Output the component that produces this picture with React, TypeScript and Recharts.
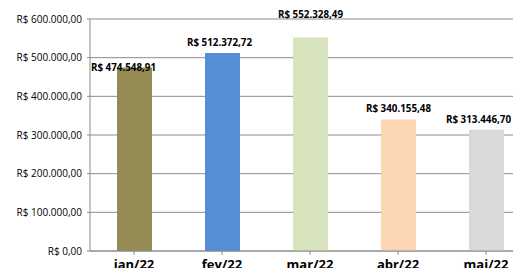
import { Bar, BarChart, CartesianGrid, Cell, LabelList, XAxis, YAxis } from "recharts";

// Faturamento mensal jan-mai/22, estilo planilha Excel.

const months = ["jan/22", "fev/22", "mar/22", "abr/22", "mai/22"];
const totals = [474548.91, 512372.72, 552328.49, 340155.48, 313446.7];
const yTicks = [0, 100000, 200000, 300000, 400000, 500000, 600000];

const COLORS = ["#948a54", "#558ed5", "#d7e4bd", "#fcd5b5", "#d9d9d9"];
// ajuste manual dos rótulos (como no original)
const NUDGE: [number, number][] = [[-11, 10], [-3, 0], [0, -12], [0, 0], [-8, 0]];

const GRID = "#8c8c8c";
const FONT = "'Open Sans', sans-serif";

const brl = (v: number) =>
  "R$ " +
  v.toLocaleString("pt-BR", { minimumFractionDigits: 2, maximumFractionDigits: 2 });

const data = months.map((m, i) => ({ month: m, total: totals[i] }));

function ValueLabel(props: any) {
  const { x, y, width, index, value } = props;
  const [dx, dy] = NUDGE[index] ?? [0, 0];
  return (
    <text
      x={x + width / 2 + dx}
      y={y - 7 + dy}
      textAnchor="middle"
      fontSize={9.8}
      fontWeight={700}
      fontFamily={FONT}
      fill="#000"
    >
      {brl(value)}
    </text>
  );
}

function YTick(props: any) {
  const { x, y, payload } = props;
  return (
    <text x={x} y={y} dy={3.5} textAnchor="end" fontSize={10} fontFamily={FONT} fill="#000">
      {brl(payload.value)}
    </text>
  );
}

export default function App() {
  return (
    <div style={{ margin: -8, width: 521, height: 276, overflow: "hidden", background: "#fff" }}>
      <BarChart
        width={540}
        height={276}
        data={data}
        margin={{ top: 19, right: 10, left: 0, bottom: 0 }}
      >
        <CartesianGrid vertical={false} stroke={GRID} />
        <XAxis
          dataKey="month"
          height={25}
          stroke={GRID}
          tickSize={4}
          tick={{ fontSize: 13, fontWeight: 700, fill: "#000", fontFamily: FONT }}
          tickMargin={5}
          interval={0}
        />
        <YAxis
          width={90}
          domain={[0, 600000]}
          ticks={yTicks}
          stroke={GRID}
          tickSize={3}
          tickMargin={5}
          tick={<YTick />}
          interval={0}
        />
        <Bar dataKey="total" barSize={35} isAnimationActive={false}>
          {data.map((d, i) => (
            <Cell key={d.month} fill={COLORS[i]} />
          ))}
          <LabelList dataKey="total" content={ValueLabel} />
        </Bar>
      </BarChart>
    </div>
  );
}
